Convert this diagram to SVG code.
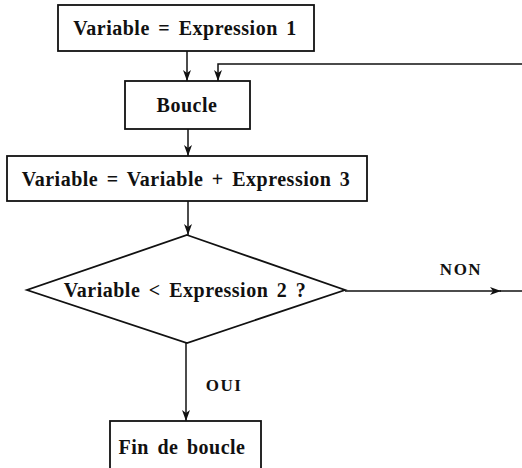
<svg xmlns="http://www.w3.org/2000/svg" width="522" height="468" viewBox="0 0 522 468">
<defs>
<style>
.box{fill:#fff;stroke:#111;stroke-width:1.8}
.ln{fill:none;stroke:#111;stroke-width:1.5}
text{font-family:"Liberation Serif","Times New Roman",serif;font-weight:bold;font-size:20px;letter-spacing:0.5px;word-spacing:3px;fill:#111;text-anchor:middle}
.lbl{font-size:17px;letter-spacing:1.5px}
</style>
<marker id="ah" viewBox="0 0 11 8" refX="11" refY="4" markerWidth="11" markerHeight="8" markerUnits="userSpaceOnUse" orient="auto">
<path d="M0,0 L11,4 L0,8 L3,4 Z" fill="#111"/>
</marker>
</defs>
<rect width="522" height="468" fill="#fff"/>
<g id="connectors">
<line class="ln" x1="187" y1="51" x2="187" y2="81" marker-end="url(#ah)"/>
<path class="ln" d="M522,64 H218 V81" marker-end="url(#ah)"/>
<line class="ln" x1="188" y1="129" x2="188" y2="156" marker-end="url(#ah)"/>
<line class="ln" x1="188" y1="201" x2="188" y2="235" marker-end="url(#ah)"/>
<line class="ln" x1="186" y1="343" x2="186" y2="421" marker-end="url(#ah)"/>
<line class="ln" x1="345" y1="291" x2="501" y2="291" marker-end="url(#ah)"/>
<line class="ln" x1="500" y1="291" x2="522" y2="291"/>
<text class="lbl" x="224" y="391">OUI</text>
<text class="lbl" x="461" y="275">NON</text>
</g>
<g id="init">
<rect class="box" x="58" y="5" width="256" height="46"/>
<text x="185" y="35">Variable = Expression 1</text>
</g>
<g id="boucle">
<rect class="box" x="125" y="81" width="125" height="48"/>
<text x="187" y="112">Boucle</text>
</g>
<g id="increment">
<rect class="box" x="7" y="156" width="360" height="45"/>
<text x="186" y="185.5">Variable = Variable + Expression 3</text>
</g>
<g id="test">
<polygon class="box" points="187,235 345,290 187,343 27,290"/>
<text x="185" y="297">Variable &lt; Expression 2 ?</text>
</g>
<g id="fin">
<rect class="box" x="110" y="421" width="151" height="60"/>
<text x="182" y="454">Fin de boucle</text>
</g>
</svg>
